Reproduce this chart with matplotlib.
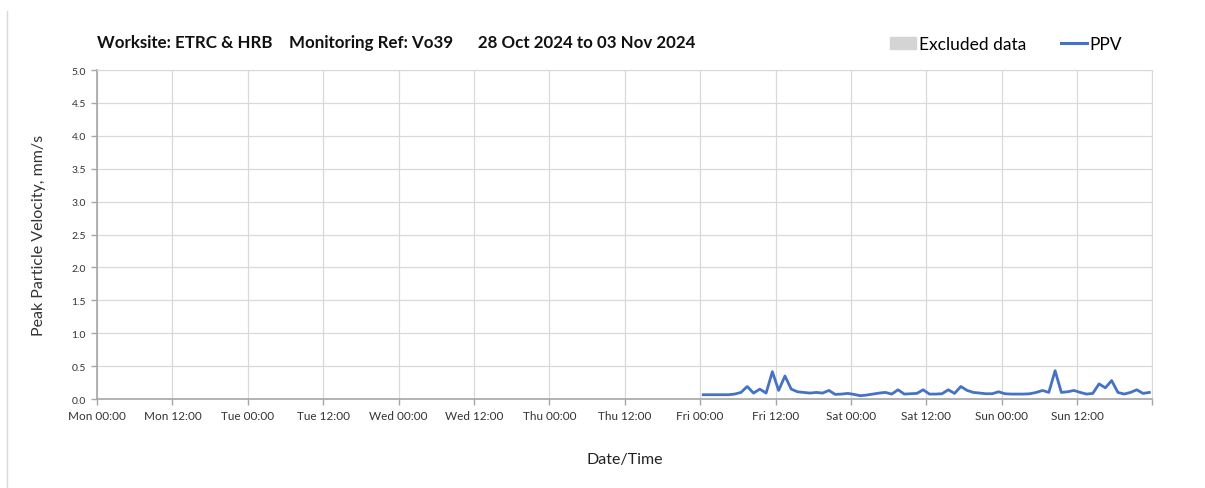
import numpy as np
import matplotlib.pyplot as plt
from matplotlib.lines import Line2D
from matplotlib.patches import Patch

plt.rcParams['font.family'] = ['Lato', 'DejaVu Sans']

# hours since Mon 28 Oct 2024 00:00 (hourly readings, mid-hour)
hours = np.arange(96.5, 168.0, 1.0)
ppv = [0.065, 0.065, 0.065, 0.065, 0.065, 0.075, 0.10, 0.19, 0.09, 0.15,
       0.09, 0.415, 0.13, 0.35, 0.15, 0.11, 0.10, 0.09, 0.10, 0.09,
       0.13, 0.07, 0.075, 0.085, 0.07, 0.05, 0.06, 0.075, 0.09, 0.10,
       0.075, 0.14, 0.075, 0.08, 0.085, 0.14, 0.075, 0.075, 0.08, 0.14,
       0.085, 0.19, 0.13, 0.10, 0.09, 0.08, 0.08, 0.11, 0.08, 0.075,
       0.075, 0.075, 0.08, 0.10, 0.13, 0.10, 0.43, 0.10, 0.11, 0.13,
       0.10, 0.075, 0.085, 0.23, 0.17, 0.28, 0.10, 0.075, 0.10, 0.14,
       0.085, 0.10]

days = ["Mon", "Tue", "Wed", "Thu", "Fri", "Sat", "Sun"]
tick_labels = [f"{d} {hh}" for d in days for hh in ("00:00", "12:00")] + [""]
tick_hours = np.arange(0, 169, 12)

title = "Worksite: ETRC & HRB    Monitoring Ref: Vo39      28 Oct 2024 to 03 Nov 2024"

fig = plt.figure(figsize=(12.05, 4.89), dpi=100)
ax = fig.add_axes([0.0805, 0.182, 0.8759, 0.6728])

ax.plot(hours, ppv, color="#4472C4", lw=2.0, solid_joinstyle="round")

ax.set_xlim(0, 168)
ax.set_ylim(0, 5.0)
ax.set_xticks(tick_hours)
ax.set_xticklabels(tick_labels, fontsize=8.5, color="#333333")
ax.set_yticks(np.arange(0, 5.01, 0.5))
ax.set_yticklabels([f"{v:.1f}" for v in np.arange(0, 5.01, 0.5)], fontsize=7.5, color="#333333")
ax.grid(True, color="#d9d9d9", lw=0.9)
ax.set_axisbelow(True)
ax.tick_params(direction="out", length=4, color="#a6a6a6", width=1, pad=4)
for side in ("top", "right"):
    ax.spines[side].set_color("#d9d9d9")
for side in ("left", "bottom"):
    ax.spines[side].set_color("#a6a6a6")
    ax.spines[side].set_linewidth(1.2)

ax.set_ylabel("Peak Particle Velocity, mm/s", fontsize=11.5, color="#333333", labelpad=18)
ax.set_xlabel("Date/Time", fontsize=11.5, color="#222222", labelpad=22)

fig.text(0.0805, 0.912, title, fontsize=12.2, fontweight="bold", color="#111111", ha="left", va="center")

handles = [Patch(color="#d4d4d4", label="Excluded data"),
           Line2D([], [], color="#4472C4", lw=2.2, label="PPV")]
fig.legend(handles=handles, loc="center right", bbox_to_anchor=(0.944, 0.908), ncol=2,
           frameon=False, fontsize=12.5, handlelength=1.5, handletextpad=0.15,
           columnspacing=2.0)

# faint border on the left edge
fig.add_artist(Line2D([0.0062, 0.0062], [0.0, 0.975], transform=fig.transFigure,
                      color="#d9d9d9", lw=1))

fig.savefig("out.png", dpi=100)
